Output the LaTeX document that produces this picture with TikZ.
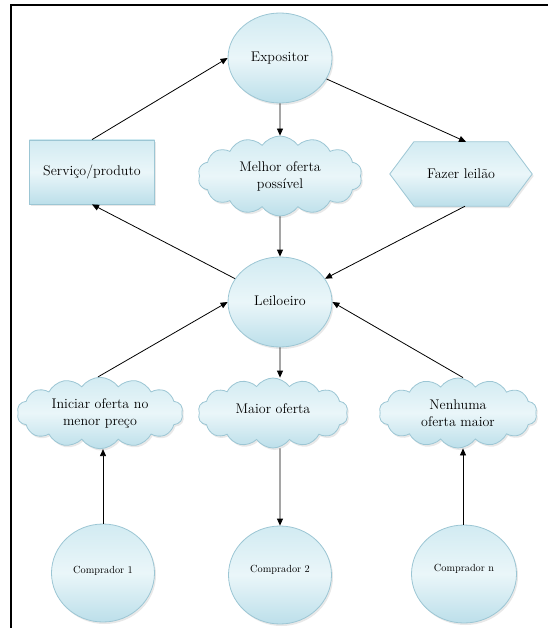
\documentclass[tikz,border=0pt]{standalone}
\usetikzlibrary{arrows.meta,shapes.geometric,shapes.symbols,shadows}

\definecolor{skyedge}{HTML}{9CC6D4}
\definecolor{skytop}{HTML}{D2EBF2}
\definecolor{skymid}{HTML}{EAF6F9}
\definecolor{skybot}{HTML}{BCDFEA}

\tikzset{
  x=1bp, y=-1bp,
  blob/.style={draw=skyedge, line width=0.8bp,
    top color=skytop, bottom color=skybot, middle color=skymid,
    drop shadow={opacity=0.18, shadow xshift=1.5bp, shadow yshift=-2bp},
    align=center, text=black, inner sep=0pt},
  maintext/.style={font=\rmfamily\fontsize{14bp}{17bp}\selectfont},
  smalltext/.style={font=\rmfamily\fontsize{10.3bp}{12bp}\selectfont},
  oval/.style={blob, ellipse, minimum width=104bp, minimum height=90bp},
  bigcloud/.style={blob, cloud, cloud puffs=14, cloud puff arc=110, aspect=2.4,
    inner sep=0pt},
  box/.style={blob, rectangle},
  link/.style={draw=black, line width=0.8bp, -{Triangle[length=7bp,width=6bp]}}
}

\begin{document}
\begin{tikzpicture}
\useasboundingbox (0,0) rectangle (548,628);

% frame
\draw[line width=2bp] (11,629) -- (11,5) -- (549,5);

% upper row
\node[oval, maintext] (expo) at (280,58) {\raisebox{3bp}{Expositor}};
\node[box, maintext, minimum width=125bp, minimum height=64bp] (serv) at (92,172) {Serviço/produto};
\node[bigcloud, maintext, minimum width=164bp, minimum height=80bp] (melhor) at (280,176) {Melhor oferta\\possível};

% hexagon drawn around an invisible anchor node
\node[maintext, minimum width=142bp, minimum height=64bp, inner sep=0pt] (fazer) at (461,174) {};
\path[blob] (fazer.west) -- ([xshift=24bp]fazer.north west) -- ([xshift=-24bp]fazer.north east)
  -- (fazer.east) -- ([xshift=-24bp]fazer.south east) -- ([xshift=24bp]fazer.south west) -- cycle;
\node[maintext] at (fazer) {Fazer leilão};

% middle
\node[oval, maintext] (leil) at (280,302) {\raisebox{3bp}{Leiloeiro}};

% offer clouds
\node[bigcloud, maintext, minimum width=166bp, minimum height=70bp] (inic) at (100,413) {Iniciar oferta no\\menor preço};
\node[bigcloud, maintext, minimum width=150bp, minimum height=70bp] (maior) at (273,413) {\raisebox{8bp}{Maior oferta}};
\node[bigcloud, maintext, minimum width=158bp, minimum height=70bp] (nenh) at (458,413) {Nenhuma\\oferta maior};

% buyers
\node[oval, smalltext, minimum width=103bp, minimum height=98bp] (c1) at (103,573) {\raisebox{6bp}{Comprador 1}};
\node[oval, smalltext, minimum width=103bp, minimum height=98bp] (c2) at (280,575) {\raisebox{12bp}{Comprador 2}};
\node[oval, smalltext, minimum width=105bp, minimum height=98bp] (cn) at (464,574) {\raisebox{12bp}{Comprador n}};

% connectors
\draw[link] (serv.north) -- (expo.west);
\draw[link] (expo) -- ([xshift=5bp]fazer.north);
\draw[link] (expo.south) -- (melhor.north);
\draw[link] (melhor.south) -- (leil.north);
\draw[link] (leil) -- (serv.south);
\draw[link] ([xshift=4bp]fazer.south) -- (leil);
\draw[link] ([xshift=-2bp]inic.north) -- (leil.west);
\draw[link] ([xshift=5bp]nenh.north) -- (leil.east);
\draw[link] (leil.south) -- ([xshift=7bp]maior.north);
\draw[link] (c1.north) -- (c1.north |- inic.south);
\draw[link] ([xshift=7bp]maior.south) -- (c2.north);
\draw[link] ([xshift=-1bp]cn.north) -- ([xshift=-1bp]cn.north |- nenh.south);
\end{tikzpicture}
\end{document}
